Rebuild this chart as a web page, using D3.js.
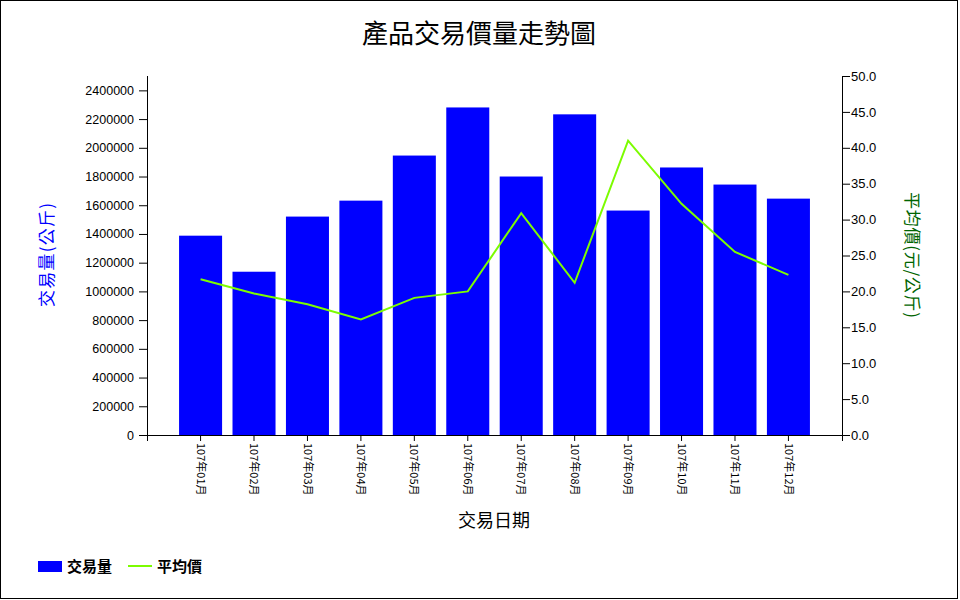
<!DOCTYPE html>
<html><head><meta charset="utf-8">
<script src="https://cdn.jsdelivr.net/npm/d3@7/dist/d3.min.js"></script>
<style>
body{margin:0;background:#fff;}
svg{display:block;}
text{font-family:"Liberation Sans",Arial,sans-serif;}
.cjk{font-family:"Noto Sans CJK TC","Noto Sans CJK SC",sans-serif;}
</style></head>
<body><svg id="c" width="960" height="600"></svg>
<script>
const months = ["107年01月","107年02月","107年03月","107年04月","107年05月","107年06月","107年07月","107年08月","107年09月","107年10月","107年11月","107年12月"];
const volume = [1388000,1137000,1521000,1632000,1946000,2281000,1800000,2233000,1563000,1863000,1744000,1646000];
const price = [21.7,19.7,18.2,16.1,19.1,20.0,30.9,21.2,41.0,32.2,25.5,22.3];
const volTicks = [0,200000,400000,600000,800000,1000000,1200000,1400000,1600000,1800000,2000000,2200000,2400000];
const priceTicks = [0,5,10,15,20,25,30,35,40,45,50];

const svg = d3.select("#c");
svg.append("rect").attr("x",0.5).attr("y",0.5).attr("width",957).attr("height",598)
  .attr("fill","#fff").attr("stroke","#000").attr("stroke-width",1);

const x0=147, x1=842, yTop=76, yBot=435;
const x = d3.scaleBand().domain(months).range([x0,x1]).paddingInner(0.195).paddingOuter(0.6);
const yL = d3.scaleLinear().domain([0,2500000]).range([yBot,yTop]);
const yR = d3.scaleLinear().domain([0,50]).range([yBot,yTop]);

// bars
svg.append("g").selectAll("rect").data(volume).join("rect")
  .attr("x",(d,i)=>x(months[i])).attr("width",x.bandwidth())
  .attr("y",d=>yL(d)).attr("height",d=>yBot-yL(d)).attr("fill","#0000ff");

// line
const line = d3.line().x((d,i)=>x(months[i])+x.bandwidth()/2).y(d=>yR(d));
svg.append("path").datum(price).attr("d",line).attr("fill","none")
  .attr("stroke","#7cfc00").attr("stroke-width",2);

// left axis
const gl = svg.append("g").attr("transform",`translate(${x0},0)`)
  .call(d3.axisLeft(yL).tickValues(volTicks).tickSize(8).tickPadding(5).tickSizeOuter(0).tickFormat(d3.format("d")));
gl.select(".domain").remove();
gl.selectAll("text").attr("font-size",12.5).attr("fill","#000").attr("font-family","Liberation Sans, Arial, sans-serif");
gl.selectAll(".tick line").attr("stroke","#000");
svg.append("line").attr("x1",x0+0.5).attr("x2",x0+0.5).attr("y1",yTop).attr("y2",yBot+6).attr("stroke","#000");

// right axis
const gr = svg.append("g").attr("transform",`translate(${x1},0)`)
  .call(d3.axisRight(yR).tickValues(priceTicks).tickSize(8).tickSizeOuter(0).tickFormat(d3.format(".1f")));
gr.select(".domain").remove();
gr.selectAll("text").attr("font-size",13).attr("fill","#000").attr("x",9).attr("font-family","Liberation Sans, Arial, sans-serif");
gr.selectAll(".tick line").attr("stroke","#000");
svg.append("line").attr("x1",x1+0.5).attr("x2",x1+0.5).attr("y1",yTop).attr("y2",yBot+6).attr("stroke","#000");

// bottom axis
const gb = svg.append("g").attr("transform",`translate(0,${yBot})`)
  .call(d3.axisBottom(x).tickSize(6).tickSizeOuter(0));
gb.select(".domain").remove();
gb.selectAll(".tick line").attr("stroke","#000");
gb.selectAll("text").attr("class","cjk").attr("font-size",11).attr("fill","#000")
  .attr("transform","rotate(90)").attr("x",8).attr("y",0).attr("dy","0.35em")
  .attr("text-anchor","start");
svg.append("line").attr("x1",x0).attr("x2",x1).attr("y1",yBot+0.5).attr("y2",yBot+0.5).attr("stroke","#000");

// title
svg.append("text").attr("class","cjk").attr("x",479).attr("y",43).attr("text-anchor","middle")
  .attr("font-size",26).attr("fill","#000").text("產品交易價量走勢圖");

// axis titles
svg.append("text").attr("class","cjk").attr("transform","translate(53,255) rotate(-90)")
  .attr("text-anchor","middle").attr("font-size",17).attr("fill","#0000ff")
  .attr("textLength",104).attr("lengthAdjust","spacing").text("交易量(公斤)");
svg.append("text").attr("class","cjk").attr("transform","translate(906,255) rotate(90)")
  .attr("text-anchor","middle").attr("font-size",17).attr("fill","#006400")
  .attr("textLength",126).attr("lengthAdjust","spacing").text("平均價(元/公斤)");
svg.append("text").attr("class","cjk").attr("x",494).attr("y",527).attr("text-anchor","middle")
  .attr("font-size",18).attr("fill","#000").text("交易日期");

// legend
const lg = svg.append("g");
lg.append("rect").attr("x",38).attr("y",561).attr("width",24).attr("height",11).attr("fill","#0000ff");
lg.append("text").attr("class","cjk").attr("x",67).attr("y",571.5).attr("font-size",15).attr("font-weight","bold").attr("fill","#000").text("交易量");
lg.append("line").attr("x1",128).attr("x2",152).attr("y1",566).attr("y2",566).attr("stroke","#7cfc00").attr("stroke-width",2);
lg.append("text").attr("class","cjk").attr("x",157).attr("y",571.5).attr("font-size",15).attr("font-weight","bold").attr("fill","#000").text("平均價");
</script></body></html>
